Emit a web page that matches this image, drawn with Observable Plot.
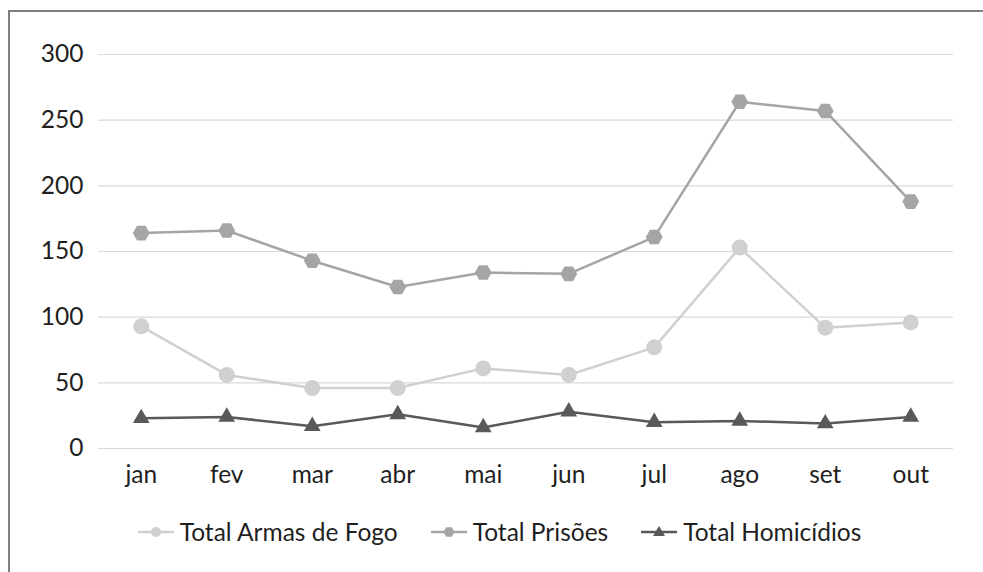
<!DOCTYPE html>
<html>
<head>
<meta charset="utf-8">
<script src="https://cdn.jsdelivr.net/npm/d3@7"></script>
<script src="https://cdn.jsdelivr.net/npm/@observablehq/plot@0.6"></script>
<style>
  html, body { margin: 0; padding: 0; background: #fff; }
  body { width: 983px; height: 572px; overflow: hidden; position: relative; font-family: Lato, sans-serif; }
  #frame { position: absolute; left: 8px; top: 10px; width: 1100px; height: 700px; border: 2px solid #808080; box-sizing: border-box; }
  #chart { position: absolute; left: 0; top: 0; }
  #legend { position: absolute; left: 0; top: 517px; width: 983px; display: flex; justify-content: center; gap: 33px; font-size: 24.5px; color: #1f1f1f; padding-left: 16px; box-sizing: border-box; }
  #legend .item { display: flex; align-items: center; gap: 6px; }
</style>
</head>
<body>
<div id="frame"></div>
<div id="chart"></div>
<div id="legend"></div>
<script>
const months = ["jan", "fev", "mar", "abr", "mai", "jun", "jul", "ago", "set", "out"];
const armasFogo = [93, 56, 46, 46, 61, 56, 77, 153, 92, 96];
const prisoes = [164, 166, 143, 123, 134, 133, 161, 264, 257, 188];
const homicidios = [23, 24, 17, 26, 16, 28, 20, 21, 19, 24];
const yTicks = [0, 50, 100, 150, 200, 250, 300];

const seriesNames = ["Total Armas de Fogo", "Total Prisões", "Total Homicídios"];
const seriesColors = ["#d0d0d0", "#a5a5a7", "#595959"];
const seriesSymbols = ["circle", "hexagon", "triangle"];
const seriesR = [8, 7.3, 6.2];
const seriesValues = [armasFogo, prisoes, homicidios];

const rows = seriesNames.map((name, s) => months.map((m, i) => ({series: name, month: m, value: seriesValues[s][i]})));

const marks = [Plot.gridY(yTicks, {stroke: "#d9d9d9", strokeOpacity: 1, strokeWidth: 1.2})];
rows.forEach((data, s) => {
  marks.push(Plot.line(data, {x: "month", y: "value", stroke: seriesColors[s], strokeWidth: 2.5}));
  marks.push(Plot.dot(data, {x: "month", y: "value", fill: seriesColors[s], r: seriesR[s], symbol: seriesSymbols[s], rotate: s === 1 ? 90 : 0}));
});

const chart = Plot.plot({
  width: 983,
  height: 500,
  marginLeft: 98,
  marginRight: 30,
  marginTop: 54,
  marginBottom: 52,
  style: {fontFamily: "Lato, sans-serif", fontSize: "24.5px", color: "#1f1f1f", background: "transparent"},
  x: {type: "point", domain: months, padding: 0.5, round: false, label: null, tickSize: 0, tickPadding: 17},
  y: {domain: [0, 300], ticks: yTicks, label: null, tickSize: 0, tickPadding: 15},
  marks
});
document.getElementById("chart").appendChild(chart);

const legend = document.getElementById("legend");
seriesNames.forEach((name, s) => {
  const item = document.createElement("div");
  item.className = "item";
  let shape;
  if (s === 0) shape = `<circle cx="18" cy="12" r="5" fill="${seriesColors[s]}"/>`;
  else if (s === 1) shape = `<polygon points="12.5,12 15.2,7.3 20.8,7.3 23.5,12 20.8,16.7 15.2,16.7" fill="${seriesColors[s]}"/>`;
  else shape = `<polygon points="18,6 24,16 12,16" fill="${seriesColors[s]}"/>`;
  item.innerHTML = `<svg width="36" height="24"><line x1="0" x2="36" y1="12" y2="12" stroke="${seriesColors[s]}" stroke-width="2.5"/>${shape}</svg><span>${name}</span>`;
  legend.appendChild(item);
});
</script>
</body>
</html>
